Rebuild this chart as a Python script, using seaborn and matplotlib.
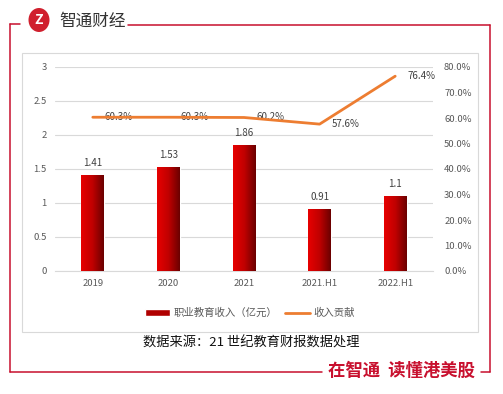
import matplotlib
matplotlib.use("Agg")
import matplotlib.pyplot as plt
import seaborn as sns
import numpy as np
import pandas as pd
from matplotlib.colors import LinearSegmentedColormap
from matplotlib.patches import Rectangle, Ellipse
from matplotlib.lines import Line2D

periods = ["2019", "2020", "2021", "2021.H1", "2022.H1"]
revenue = [1.41, 1.53, 1.86, 0.91, 1.1]
share = [60.3, 60.3, 60.2, 57.6, 76.4]
revenue_labels = ["1.41", "1.53", "1.86", "0.91", "1.1"]
share_labels = ["60.3%", "60.3%", "60.2%", "57.6%", "76.4%"]

sns.set_style("white")
plt.rcParams['font.family'] = ['Noto Sans CJK SC', 'DejaVu Sans']

W, H = 503, 394
fig = plt.figure(figsize=(W / 100, H / 100), dpi=100)

def fx(px):
    return px / W

def fy(py):
    return 1 - py / H

ax = fig.add_axes([fx(55), fy(271), fx(433) - fx(55), fy(67) - fy(271)])
df = pd.DataFrame({"period": periods, "revenue": revenue, "share": share})

sns.barplot(data=df, x="period", y="revenue", ax=ax, width=0.3, color="#c00000", zorder=2)
ax.set_yticks(np.arange(0, 3.01, 0.5))
ax.set_yticklabels(["0", "0.5", "1", "1.5", "2", "2.5", "3"])
ax.grid(axis="y", color="#d9d9d9", linewidth=0.8, zorder=0)
ax.set_axisbelow(True)
for s in ["top", "right", "left"]:
    ax.spines[s].set_visible(False)
ax.spines["bottom"].set_color("#d9d9d9")
ax.set_xlabel("")
ax.set_ylabel("")
ax.tick_params(axis="both", length=0, labelsize=6.8, colors="#595959", pad=6)

# gradient fill on bars
cmap = LinearSegmentedColormap.from_list("redgrad", ["#e80000", "#c00000", "#6a0000"])
grad = np.linspace(0, 1, 256).reshape(1, -1)
for p, lab in zip(ax.patches, revenue_labels):
    x0, y0 = p.get_x(), p.get_y()
    w, h = p.get_width(), p.get_height()
    im = ax.imshow(grad, extent=[x0, x0 + w, y0, y0 + h], aspect="auto", cmap=cmap, zorder=3)
    im.set_clip_path(p)
    p.set_facecolor("none")
    ax.text(x0 + w / 2, y0 + h + 0.1, lab, ha="center", va="bottom", fontsize=7, color="#404040")
ax.set_xlim(-0.5, 4.5)
ax.set_ylim(0, 3)

ax2 = ax.twinx()
sns.lineplot(data=df, x="period", y="share", ax=ax2, color="#ed7d31", linewidth=2, sort=False, zorder=4)
ax2.set_ylim(0, 80)
ax2.set_yticks(np.arange(0, 80.1, 10))
ax2.set_yticklabels([f"{v:.1f}%" for v in np.arange(0, 80.1, 10)])
ax2.set_xlim(-0.5, 4.5)
for s in ax2.spines.values():
    s.set_visible(False)
ax2.set_xlabel("")
ax2.set_ylabel("")
ax2.tick_params(axis="y", length=0, labelsize=6.8, colors="#595959", pad=8)
for i, (v, lab) in enumerate(zip(share, share_labels)):
    ax2.text(i + 0.16, v, lab, ha="left", va="center", fontsize=7, color="#404040")

# legend
h1 = Rectangle((0, 0), 1, 1, facecolor="#b00000")
h2 = Line2D([0], [0], color="#ed7d31", linewidth=2)
fig.legend([h1, h2], ["职业教育收入（亿元）", "收入贡献"], loc="center", bbox_to_anchor=(fx(250), fy(313)),
           ncol=2, frameon=False, fontsize=7.5, labelcolor="#595959", handlelength=2.4,
           handleheight=0.6, columnspacing=0.8, handletextpad=0.3)

# chart box
fig.add_artist(Rectangle((fx(22), fy(332)), fx(478) - fx(22), fy(53) - fy(332),
                         transform=fig.transFigure, fill=False, edgecolor="#d9d9d9", linewidth=0.8))

fig.text(fx(251), fy(343), "数据来源：21 世纪教育财报数据处理", ha="center", va="center", fontsize=9.5, color="#111111")

# red frame
red = "#c8102e"
frame = [((20, 10), (24, 24)), ((10, 10), (24, 372)), ((10, 322), (372, 372)),
         ((128, 490), (25, 25)), ((490, 490), (25, 372)), ((490, 481), (372, 372))]
for xs, ys in frame:
    fig.add_artist(Line2D([fx(xs[0]), fx(xs[1])], [fy(ys[0]), fy(ys[1])], transform=fig.transFigure,
                          color=red, linewidth=1.1, solid_capstyle="round"))

fig.text(fx(402), fy(371), "在智通  读懂港美股", ha="center", va="center", fontsize=12.5, fontweight="bold",
         color=red)

# logo
fig.add_artist(Ellipse((fx(39), fy(20)), 21 / W, 24 / H, transform=fig.transFigure,
                       facecolor="#d0202e", edgecolor="none"))
fig.text(fx(39), fy(20), "Z", ha="center", va="center", fontsize=10, fontweight="bold", color="white", fontstyle="italic")
fig.text(fx(59), fy(21), "智通财经", ha="left", va="center", fontsize=12, color="#333333")

fig.savefig("out.png", dpi=100)
